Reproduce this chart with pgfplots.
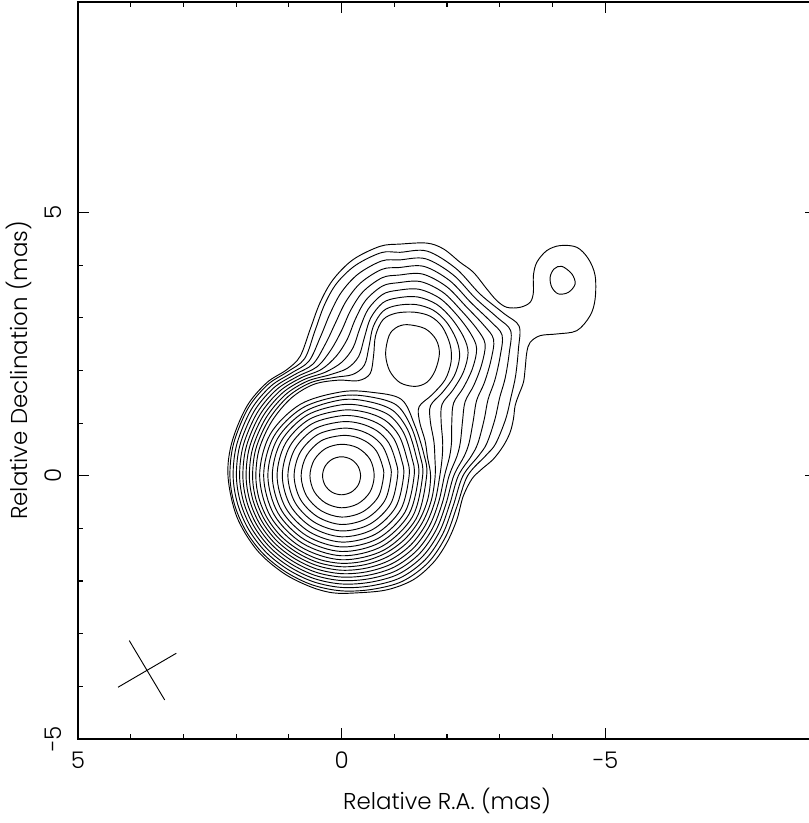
\documentclass[border=0pt]{standalone}
\usepackage{pgfplots}
\pgfplotsset{compat=1.18}
\usepgfplotslibrary{polar}
\usepackage{fontspec}
\setmainfont{Poppins Light}
\pgfplotsset{cnt/.style={black, line width=0.7pt, smooth cycle, tension=0.55}}
\begin{document}
\begin{tikzpicture}
\begin{axis}[
  at={(0,0)}, anchor=south west,
  scale only axis,
  width=553.5pt, height=552.75pt,
  xmin=-9, xmax=5, ymin=-5, ymax=9,
  x dir=reverse,
  xtick={-5,0,5}, ytick={-5,0,5},
  xticklabels={−5,0,5}, yticklabels={−5,0,5},
  minor tick num=4,
  tick align=inside,
  major tick length=7.9pt, minor tick length=3.75pt,
  every tick/.style={black, line width=0.9pt},
  axis line style={line width=1.4pt},
  font=\fontsize{17.2}{20}\selectfont,
  xticklabel style={anchor=base, inner sep=0pt, yshift=-21.75pt},
  yticklabel style={rotate=90, anchor=south, inner sep=0pt},
  yticklabel shift=12pt,
  xlabel={Relative R.A. (mas)},
  ylabel={Relative Declination (mas)},
  xlabel style={at={(axis description cs:0.5,-0.0955)}, anchor=base, inner sep=0pt},
  ylabel style={at={(axis description cs:-0.0678,0.5)}, anchor=base, inner sep=0pt},
]
% outermost contour, including the knot near (-4.2, 3.7)
\addplot[cnt] coordinates {(2.154,-0.013) (2.083,0.627) (1.799,1.317) (1.419,1.768) (1.040,2.015) (0.787,2.268) (0.598,2.776) (0.408,3.289) (0.161,3.726) (-0.218,4.106) (-0.731,4.359) (-1.110,4.401) (-1.617,4.420) (-1.932,4.310) (-2.249,4.055) (-2.501,3.865) (-2.755,3.549) (-2.945,3.327) (-3.135,3.200) (-3.387,3.200) (-3.577,3.295) (-3.639,3.485) (-3.639,3.802) (-3.704,4.055) (-3.894,4.278) (-4.146,4.373) (-4.463,4.340) (-4.683,4.120) (-4.810,3.802) (-4.810,3.359) (-4.715,3.042) (-4.463,2.757) (-4.083,2.694) (-3.767,2.662) (-3.577,2.534) (-3.514,2.344) (-3.482,2.029) (-3.450,1.774) (-3.355,1.521) (-3.292,1.331) (-3.260,1.078) (-3.197,0.823) (-3.070,0.570) (-2.880,0.317) (-2.660,0.127) (-2.471,-0.063) (-2.306,-0.394) (-2.186,-0.837) (-1.996,-1.274) (-1.736,-1.654) (-1.357,-1.977) (-0.858,-2.167) (-0.288,-2.224) (0.161,-2.224) (0.598,-2.105) (1.110,-1.844) (1.609,-1.407) (1.989,-0.774)};
% contours enclosing both the core and the component at (-1.4, 2.3)
\addplot[cnt] coordinates {(2.118,0.000) (2.047,0.616) (1.770,1.289) (1.400,1.732) (1.030,1.973) (0.702,2.224) (0.507,2.747) (0.323,3.251) (0.089,3.660) (-0.271,4.002) (-0.759,4.240) (-1.110,4.245) (-1.622,4.268) (-2.173,3.935) (-2.628,3.451) (-3.083,3.080) (-3.368,2.842) (-3.355,2.409) (-3.302,1.901) (-3.216,1.502) (-3.112,1.074) (-2.922,0.608) (-2.742,0.390) (-2.391,0.000) (-2.187,-0.587) (-1.981,-1.145) (-1.644,-1.647) (-1.155,-2.004) (-0.577,-2.158) (0.000,-2.186) (0.554,-2.073) (1.054,-1.829) (1.483,-1.486) (1.814,-1.049) (2.031,-0.545)};
\addplot[cnt] coordinates {(2.057,0) (1.986,0.603) (1.714,1.257) (1.345,1.700) (0.967,1.943) (0.623,2.173) (0.405,2.629) (0.215,3.087) (0.002,3.488) (-0.318,3.835) (-0.763,4.081) (-1.101,4.101) (-1.591,4.123) (-2.111,3.822) (-2.538,3.374) (-2.955,3.006) (-3.207,2.758) (-3.181,2.336) (-3.104,1.856) (-2.998,1.478) (-2.908,1.068) (-2.755,0.615) (-2.603,0.384) (-2.303,0) (-2.118,-0.569) (-1.917,-1.108) (-1.589,-1.592) (-1.116,-1.937) (-0.559,-2.091) (0,-2.121) (0.538,-2.012) (1.024,-1.776) (1.441,-1.444) (1.763,-1.020) (1.973,-0.530)};
\addplot[cnt] coordinates {(1.995,0) (1.926,0.589) (1.658,1.226) (1.289,1.668) (0.905,1.914) (0.543,2.122) (0.302,2.512) (0.107,2.923) (-0.085,3.315) (-0.365,3.667) (-0.766,3.921) (-1.091,3.956) (-1.560,3.978) (-2.049,3.709) (-2.448,3.296) (-2.827,2.932) (-3.045,2.673) (-3.007,2.263) (-2.906,1.811) (-2.780,1.454) (-2.704,1.062) (-2.587,0.622) (-2.464,0.378) (-2.215,0) (-2.049,-0.550) (-1.853,-1.071) (-1.533,-1.536) (-1.077,-1.869) (-0.541,-2.023) (0,-2.055) (0.522,-1.952) (0.993,-1.724) (1.399,-1.402) (1.712,-0.990) (1.915,-0.514)};
\addplot[cnt] coordinates {(1.934,0) (1.865,0.576) (1.602,1.194) (1.234,1.636) (0.842,1.884) (0.464,2.071) (0.200,2.394) (-0.001,2.759) (-0.172,3.143) (-0.411,3.500) (-0.770,3.762) (-1.082,3.812) (-1.530,3.833) (-1.988,3.596) (-2.358,3.219) (-2.699,2.859) (-2.884,2.589) (-2.833,2.190) (-2.708,1.766) (-2.562,1.431) (-2.500,1.056) (-2.420,0.629) (-2.326,0.372) (-2.128,0) (-1.981,-0.532) (-1.790,-1.035) (-1.478,-1.481) (-1.038,-1.802) (-0.523,-1.956) (0,-1.990) (0.506,-1.891) (0.963,-1.671) (1.357,-1.360) (1.661,-0.961) (1.858,-0.499)};
\addplot[cnt] coordinates {(1.872,0) (1.805,0.562) (1.546,1.163) (1.178,1.604) (0.780,1.855) (0.384,2.020) (0.097,2.277) (-0.109,2.595) (-0.259,2.970) (-0.458,3.332) (-0.773,3.603) (-1.072,3.667) (-1.499,3.688) (-1.926,3.483) (-2.268,3.142) (-2.571,2.785) (-2.723,2.504) (-2.659,2.117) (-2.510,1.721) (-2.344,1.407) (-2.296,1.050) (-2.253,0.636) (-2.187,0.366) (-2.040,0) (-1.912,-0.513) (-1.726,-0.998) (-1.422,-1.425) (-0.999,-1.734) (-0.505,-1.889) (0,-1.924) (0.490,-1.831) (0.932,-1.619) (1.315,-1.318) (1.610,-0.931) (1.800,-0.483)};
\addplot[cnt] coordinates {(1.811,0) (1.744,0.549) (1.491,1.131) (1.123,1.572) (0.717,1.825) (0.305,1.969) (-0.006,2.159) (-0.217,2.431) (-0.346,2.798) (-0.505,3.165) (-0.777,3.444) (-1.063,3.523) (-1.468,3.543) (-1.864,3.371) (-2.178,3.065) (-2.443,2.711) (-2.562,2.420) (-2.486,2.044) (-2.312,1.676) (-2.126,1.383) (-2.092,1.045) (-2.086,0.644) (-2.048,0.360) (-1.952,0) (-1.843,-0.495) (-1.662,-0.961) (-1.367,-1.370) (-0.961,-1.667) (-0.487,-1.822) (0,-1.859) (0.474,-1.770) (0.902,-1.566) (1.273,-1.276) (1.559,-0.902) (1.742,-0.468)};
\addplot[cnt] coordinates {(1.749,0) (1.683,0.535) (1.435,1.099) (1.067,1.539) (0.654,1.795) (0.225,1.918) (-0.108,2.041) (-0.325,2.267) (-0.433,2.626) (-0.552,2.997) (-0.780,3.284) (-1.053,3.378) (-1.437,3.398) (-1.802,3.258) (-2.087,2.987) (-2.315,2.637) (-2.400,2.336) (-2.312,1.971) (-2.113,1.630) (-1.907,1.359) (-1.888,1.039) (-1.918,0.651) (-1.909,0.354) (-1.864,0) (-1.774,-0.476) (-1.598,-0.924) (-1.312,-1.314) (-0.922,-1.600) (-0.469,-1.754) (0,-1.794) (0.457,-1.709) (0.872,-1.513) (1.231,-1.233) (1.507,-0.872) (1.684,-0.452)};
\addplot[cnt] coordinates {(1.688,0) (1.623,0.522) (1.379,1.068) (1.012,1.507) (0.592,1.766) (0.146,1.867) (-0.211,1.924) (-0.433,2.103) (-0.520,2.453) (-0.599,2.830) (-0.784,3.125) (-1.044,3.234) (-1.406,3.253) (-1.740,3.145) (-1.997,2.910) (-2.187,2.563) (-2.239,2.251) (-2.138,1.898) (-1.915,1.585) (-1.689,1.335) (-1.684,1.033) (-1.751,0.658) (-1.770,0.348) (-1.776,0) (-1.705,-0.458) (-1.534,-0.887) (-1.256,-1.259) (-0.883,-1.532) (-0.451,-1.687) (0,-1.728) (0.441,-1.649) (0.841,-1.461) (1.189,-1.191) (1.456,-0.843) (1.627,-0.437)};
\addplot[cnt] coordinates {(1.626,0) (1.562,0.508) (1.323,1.036) (0.956,1.475) (0.529,1.736) (0.066,1.816) (-0.313,1.806) (-0.541,1.939) (-0.607,2.281) (-0.645,2.662) (-0.787,2.966) (-1.034,3.089) (-1.376,3.108) (-1.679,3.032) (-1.907,2.833) (-2.059,2.490) (-2.078,2.167) (-1.964,1.825) (-1.717,1.540) (-1.471,1.312) (-1.480,1.027) (-1.584,0.665) (-1.632,0.342) (-1.689,0) (-1.637,-0.439) (-1.471,-0.851) (-1.201,-1.203) (-0.844,-1.465) (-0.433,-1.620) (0,-1.663) (0.425,-1.588) (0.811,-1.408) (1.147,-1.149) (1.405,-0.813) (1.569,-0.421)};
% peak of the component at (-1.4, 2.3)
\addplot[cnt] coordinates {(-1.243,2.871) (-1.584,2.795) (-1.793,2.586) (-1.856,2.319) (-1.774,1.996) (-1.622,1.778) (-1.395,1.698) (-1.110,1.768) (-0.911,1.996) (-0.835,2.319) (-0.901,2.662) (-1.034,2.814)};
% peak of the knot at (-4.2, 3.7)
\addplot[cnt] coordinates {(-4.178,3.979) (-4.368,3.835) (-4.431,3.644) (-4.304,3.485) (-4.114,3.454) (-3.989,3.580) (-3.956,3.770) (-4.032,3.930)};
% core contours, polar (angle in degrees, radius in mas) about the origin
\addplot[cnt, data cs=polar] coordinates {(0,1.554) (30,1.567) (60,1.567) (90,1.595) (110,1.687) (128,1.842) (145,1.690) (165,1.614) (180,1.614) (210,1.633) (240,1.624) (270,1.595) (300,1.557) (330,1.554)};
\addplot[cnt, data cs=polar] coordinates {(0,1.478) (30,1.487) (60,1.487) (90,1.519) (110,1.595) (128,1.700) (145,1.614) (165,1.538) (180,1.538) (210,1.554) (240,1.544) (270,1.519) (300,1.481) (330,1.478)};
\addplot[cnt, data cs=polar] coordinates {(0,1.398) (30,1.405) (60,1.405) (90,1.443) (110,1.500) (128,1.576) (145,1.529) (165,1.462) (180,1.462) (210,1.472) (240,1.462) (270,1.438) (300,1.402) (330,1.398)};
\addplot[cnt, data cs=polar] coordinates {(0,1.314) (30,1.320) (60,1.324) (90,1.349) (110,1.396) (128,1.462) (145,1.434) (165,1.377) (180,1.377) (210,1.387) (240,1.377) (270,1.352) (300,1.318) (330,1.314)};
\addplot[cnt, data cs=polar] coordinates {(0,1.223) (30,1.229) (60,1.235) (90,1.244) (110,1.288) (128,1.339) (145,1.330) (165,1.282) (180,1.282) (210,1.292) (240,1.282) (270,1.259) (300,1.227) (330,1.223)};
\addplot[cnt, data cs=polar] coordinates {(0,1.124) (30,1.130) (60,1.136) (90,1.140) (110,1.174) (128,1.216) (145,1.216) (165,1.178) (180,1.178) (210,1.187) (240,1.178) (270,1.159) (300,1.128) (330,1.124)};
\addplot[cnt, data cs=polar] coordinates {(0,1.018) (30,1.022) (60,1.026) (90,1.026) (110,1.054) (128,1.086) (145,1.092) (165,1.064) (180,1.064) (210,1.073) (240,1.064) (270,1.048) (300,1.022) (330,1.018)};
\addplot[cnt, data cs=polar] coordinates {(0,0.900) (30,0.902) (60,0.904) (90,0.902) (110,0.925) (128,0.950) (145,0.959) (165,0.940) (180,0.940) (210,0.946) (240,0.938) (270,0.925) (300,0.902) (330,0.900)};
\addplot[cnt, data cs=polar] coordinates {(0,0.767) (30,0.767) (60,0.769) (90,0.765) (110,0.783) (128,0.802) (145,0.811) (165,0.798) (180,0.798) (210,0.802) (240,0.794) (270,0.784) (300,0.769) (330,0.767)};
\addplot[cnt, data cs=polar] coordinates {(0,0.600) (30,0.600) (60,0.600) (90,0.598) (120,0.612) (150,0.624) (180,0.619) (210,0.621) (240,0.615) (270,0.608) (300,0.600) (330,0.600)};
\addplot[cnt, data cs=polar] coordinates {(0,0.361) (30,0.361) (60,0.361) (90,0.361) (120,0.361) (150,0.361) (180,0.361) (210,0.361) (240,0.361) (270,0.361) (300,0.361) (330,0.361)};
% restoring beam
\addplot[black, line width=0.7pt] coordinates {(4.027,-3.131) (3.355,-4.259)};
\addplot[black, line width=0.7pt] coordinates {(4.241,-4.017) (3.135,-3.371)};
\end{axis}
\pgfresetboundingbox
\useasboundingbox (-58.5pt,-63pt) rectangle (547.5pt,554.25pt);
\end{tikzpicture}
\end{document}
